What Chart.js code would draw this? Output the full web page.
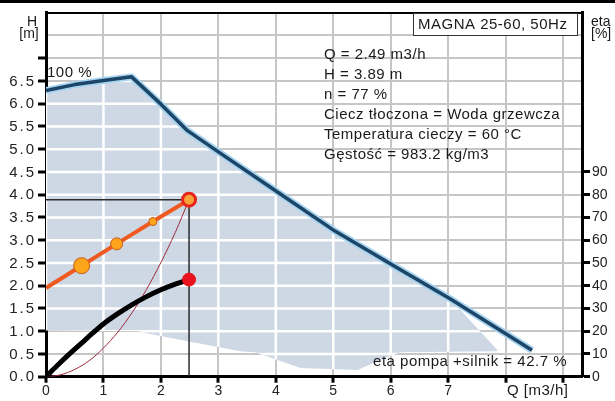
<!DOCTYPE html>
<html>
<head>
<meta charset="utf-8">
<script src="https://cdn.jsdelivr.net/npm/chart.js@4/dist/chart.umd.min.js"></script>
<style>
  html, body { margin: 0; padding: 0; background: #fff; }
  canvas { display: block; }
</style>
</head>
<body>
<canvas id="pumpChart" width="615" height="401"></canvas>
<script>
// Max-speed curve (H over Q)
const maxQ = [0, 0.5, 1.0, 1.49, 2.0, 2.45, 3.0, 3.9, 5.03, 6.17, 7.04, 8.46];
const maxH = [6.29, 6.42, 6.51, 6.59, 5.99, 5.42, 4.94, 4.17, 3.20, 2.35, 1.71, 0.58];

// Shaded working range: upper and lower edges
const rangeTopQ = [0, 0.5, 1.0, 1.49, 2.0, 2.45, 3.0, 3.9, 5.03, 6.17, 7.04, 7.86];
const rangeTopH = [6.29, 6.42, 6.51, 6.59, 5.99, 5.42, 4.94, 4.17, 3.20, 2.35, 1.71, 0.58];
const rangeBotQ = [0, 1.64, 1.72, 3.38, 3.64, 4.43, 5.42, 5.9, 6.17, 7.86];
const rangeBotH = [1.02, 1.0, 0.96, 0.56, 0.54, 0.19, 0.15, 0.41, 0.54, 0.56];

// Control curve with duty points
const ctrlQ = [0, 0.62, 1.23, 1.86, 2.49];
const ctrlH = [1.95, 2.44, 2.92, 3.41, 3.89];

// System parabola through the duty point
const sysQ = [0, 0.25, 0.5, 0.75, 1.0, 1.25, 1.5, 1.75, 2.0, 2.25, 2.49];
const sysH = [0, 0.04, 0.16, 0.35, 0.63, 0.98, 1.41, 1.92, 2.51, 3.17, 3.89];

// Efficiency pump + motor (right axis)
const etaQ = [0, 0.2, 0.4, 0.6, 0.8, 1.0, 1.25, 1.5, 1.75, 2.0, 2.25, 2.49];
const etaPct = [0, 5.0, 9.8, 14.3, 18.9, 23.2, 27.7, 31.7, 35.2, 38.2, 40.7, 42.7];

// Duty point
const dutyQ = 2.49;
const dutyH = 3.89;
const dutyEta = 42.7;

// Tick labels
const qTickLabels = ['0', '1', '2', '3', '4', '5', '6', '7'];
const hTickLabels = ['0.0', '0.5', '1.0', '1.5', '2.0', '2.5', '3.0', '3.5', '4.0', '4.5', '5.0', '5.5', '6.0', '6.5'];
const etaTickLabels = ['0', '10', '20', '30', '40', '50', '60', '70', '80', '90'];

const infoLines = [
  'Q = 2.49 m3/h',
  'H = 3.89 m',
  'n = 77 %',
  'Ciecz tłoczona = Woda grzewcza',
  'Temperatura cieczy = 60 °C',
  'Gęstość = 983.2 kg/m3'
];

const FONT = '"Liberation Sans", Arial, sans-serif';
const pts = (xs, ys) => xs.map((x, i) => ({ x: x, y: ys[i] }));

// white grid lines over the shaded range
const rangeGrid = {
  id: 'rangeGrid',
  afterDatasetDraw(chart, args) {
    if (chart.data.datasets[args.index].id !== 'rangeTop') return;
    const { ctx, scales: { x, y } } = chart;
    ctx.save();
    ctx.beginPath();
    rangeTopQ.forEach((q, i) => {
      const px = x.getPixelForValue(q), py = y.getPixelForValue(rangeTopH[i]);
      i ? ctx.lineTo(px, py) : ctx.moveTo(px, py);
    });
    for (let i = rangeBotQ.length - 1; i >= 0; i--) {
      ctx.lineTo(x.getPixelForValue(rangeBotQ[i]), y.getPixelForValue(rangeBotH[i]));
    }
    ctx.closePath();
    ctx.clip();
    ctx.strokeStyle = '#ffffff';
    ctx.lineWidth = 2.5;
    x.ticks.forEach(t => {
      const px = x.getPixelForValue(t.value);
      ctx.beginPath(); ctx.moveTo(px, chart.chartArea.top); ctx.lineTo(px, chart.chartArea.bottom); ctx.stroke();
    });
    y.ticks.forEach(t => {
      const py = y.getPixelForValue(t.value);
      ctx.beginPath(); ctx.moveTo(chart.chartArea.left, py); ctx.lineTo(chart.chartArea.right, py); ctx.stroke();
    });
    ctx.restore();
  }
};

// captions, info block, unit labels and the H tick numbers
const captions = {
  id: 'captions',
  afterDraw(chart) {
    const ctx = chart.ctx;
    const y = chart.scales.y;
    ctx.save();
    ctx.textBaseline = 'middle';

    // top frame line
    ctx.fillStyle = '#000';
    ctx.fillRect(0, 0, 615, 3);

    // H axis numbers, spaced out
    ctx.fillStyle = '#222';
    ctx.font = '15px ' + FONT;
    ctx.letterSpacing = '2px';
    ctx.textAlign = 'right';
    y.ticks.forEach(t => {
      const s = hTickLabels[Math.round(t.value * 2)];
      if (s) ctx.fillText(s, 36, y.getPixelForValue(t.value) + 0.5);
    });

    ctx.fillStyle = '#1a1a1a';
    ctx.letterSpacing = '0px';
    ctx.font = '14px ' + FONT;
    ctx.textAlign = 'center';
    ctx.fillText('H', 32, 22);
    ctx.fillText('[m]', 29, 34);
    ctx.textAlign = 'left';
    ctx.fillText('eta', 591, 22);
    ctx.fillText('[%]', 591, 34);

    ctx.letterSpacing = '0.5px';
    ctx.font = '15px ' + FONT;
    ctx.fillText('100 %', 47, 73);
    ctx.fillText('Q [m3/h]', 507, 391);

    // model box
    ctx.fillStyle = '#fff';
    ctx.fillRect(413, 13, 164, 22);
    ctx.strokeStyle = '#333';
    ctx.lineWidth = 1;
    ctx.strokeRect(413.5, 13.5, 164, 22);
    ctx.fillStyle = '#1a1a1a';
    ctx.fillText('MAGNA 25-60, 50Hz', 418, 25);

    infoLines.forEach((s, i) => ctx.fillText(s, 324, 55 + i * 20));

    ctx.textAlign = 'right';
    ctx.fillText('eta pompa +silnik = 42.7 %', 567, 362);
    ctx.restore();
  }
};

new Chart(document.getElementById('pumpChart'), {
  type: 'line',
  data: {
    datasets: [
      {
        id: 'rangeTop',
        data: pts(rangeTopQ, rangeTopH),
        borderWidth: 0,
        pointRadius: 0,
        backgroundColor: '#cdd8e4',
        fill: 1,
        order: 10
      },
      {
        id: 'rangeBot',
        data: pts(rangeBotQ, rangeBotH),
        borderWidth: 0,
        pointRadius: 0,
        fill: false,
        order: 11
      },
      {
        // glow around the max curve
        data: pts(maxQ, maxH),
        borderColor: '#a6d3ef',
        borderWidth: 7,
        pointRadius: 0,
        fill: false,
        order: 9
      },
      {
        data: pts(maxQ, maxH),
        borderColor: '#1c4567',
        borderWidth: 3.5,
        borderJoinStyle: 'round',
        pointRadius: 0,
        fill: false,
        order: 8
      },
      {
        data: pts(sysQ, sysH),
        borderColor: '#9c2a3a',
        borderWidth: 1,
        pointRadius: 0,
        cubicInterpolationMode: 'monotone',
        fill: false,
        order: 7
      },
      {
        // duty point guide lines
        data: [{ x: 0, y: dutyH }, { x: dutyQ, y: dutyH }, { x: dutyQ, y: 0 }],
        borderColor: '#2a2a2a',
        borderWidth: 1.5,
        pointRadius: 0,
        fill: false,
        order: 6
      },
      {
        data: pts(etaQ, etaPct),
        yAxisID: 'y2',
        borderColor: '#000',
        borderWidth: 5,
        pointRadius: 0,
        cubicInterpolationMode: 'monotone',
        fill: false,
        order: 5
      },
      {
        data: pts(ctrlQ, ctrlH),
        borderColor: '#ef5a20',
        borderWidth: 4,
        pointRadius: [0, 8, 6, 4, 6.5],
        pointBackgroundColor: ['#ffa51c', '#ffa51c', '#ffa51c', '#ffa51c', '#f7a33a'],
        pointBorderColor: ['#c85a18', '#c85a18', '#c85a18', '#c85a18', '#e8241e'],
        pointBorderWidth: [1, 1, 1, 1, 3],
        fill: false,
        order: 4
      },
      {
        data: [{ x: dutyQ, y: dutyEta }],
        yAxisID: 'y2',
        showLine: false,
        pointRadius: 6.5,
        pointBackgroundColor: '#e8121c',
        pointBorderColor: '#e8121c',
        pointBorderWidth: 1,
        order: 3
      }
    ]
  },
  options: {
    responsive: false,
    animation: false,
    events: [],
    layout: { padding: { top: 12.7, left: 0, right: 0, bottom: 0 } },
    plugins: {
      legend: { display: false },
      tooltip: { enabled: false }
    },
    scales: {
      x: {
        type: 'linear',
        min: 0,
        max: 9.33,
        afterFit: s => { s.height = 24.3; },
        border: { color: '#000', width: 3 },
        grid: {
          color: '#c6c6c6',
          lineWidth: 2,
          tickLength: 6,
          tickWidth: 3,
          tickColor: '#000'
        },
        ticks: {
          stepSize: 1,
          includeBounds: false,
          autoSkip: false,
          maxRotation: 0,
          padding: 0,
          color: '#222',
          font: { family: FONT, size: 14 },
          callback: v => (qTickLabels[v] !== undefined ? qTickLabels[v] : '')
        }
      },
      y: {
        type: 'linear',
        position: 'left',
        min: 0,
        max: 8,
        afterFit: s => { s.width = 46; },
        border: { color: '#000', width: 3 },
        grid: {
          color: c => (c.tick && c.tick.value === 8 ? '#000' : '#c6c6c6'),
          lineWidth: 2,
          tickLength: 8,
          tickWidth: 3,
          tickColor: c => (c.tick && c.tick.value <= 7 ? '#000' : 'rgba(0,0,0,0)')
        },
        ticks: {
          stepSize: 0.5,
          autoSkip: false,
          display: false
        }
      },
      y2: {
        type: 'linear',
        position: 'right',
        min: 0,
        max: 160,
        afterFit: s => { s.width = 33; },
        border: { color: '#000', width: 3 },
        grid: {
          drawOnChartArea: false,
          tickLength: 8,
          tickWidth: 3,
          tickColor: c => (c.tick && c.tick.value <= 90 ? '#000' : 'rgba(0,0,0,0)')
        },
        ticks: {
          stepSize: 10,
          autoSkip: false,
          padding: 2,
          color: '#222',
          font: { family: FONT, size: 14 },
          callback: v => etaTickLabels[v / 10] || ''
        }
      }
    }
  },
  plugins: [rangeGrid, captions]
});
</script>
</body>
</html>
